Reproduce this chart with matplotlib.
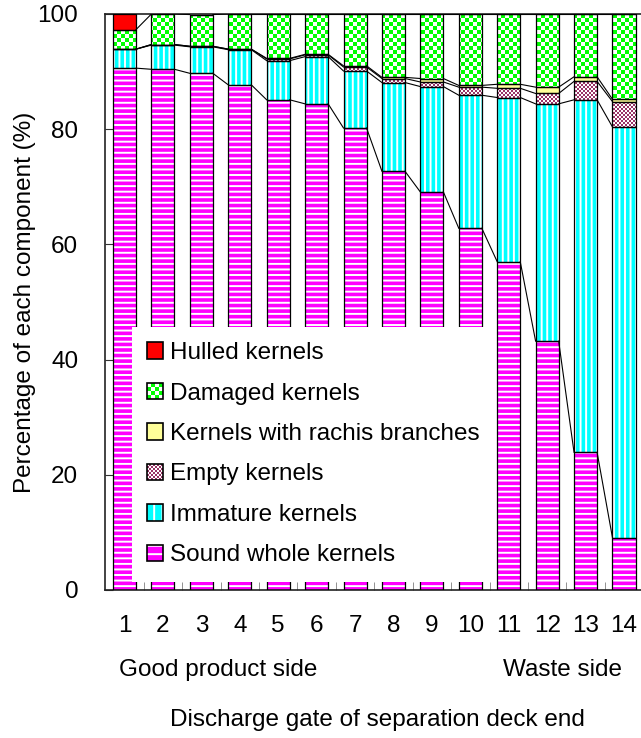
import numpy as np
import matplotlib.pyplot as plt
from matplotlib.patches import Rectangle, Patch
from matplotlib.path import Path

plt.rcParams['font.family'] = ['Liberation Sans', 'DejaVu Sans']
plt.rcParams['hatch.linewidth'] = 1.4

# data (% of each component per discharge gate)
gates = list(range(1, 15))
sound = [90.6, 90.4, 89.7, 87.7, 85.1, 84.4, 80.2, 72.7, 69.1, 62.8, 57.0, 43.2, 23.9, 9.1]
immature = [3.3, 4.2, 4.6, 6.1, 6.8, 8.2, 9.9, 15.4, 18.3, 23.1, 28.5, 41.2, 61.2, 71.3]
empty = [0.0, 0.1, 0.1, 0.1, 0.3, 0.3, 0.7, 0.7, 0.8, 1.4, 1.6, 1.8, 3.2, 4.4]
rachis = [0.0, 0.0, 0.0, 0.0, 0.1, 0.1, 0.2, 0.2, 0.6, 0.3, 0.7, 1.1, 0.8, 0.4]
damaged = [3.4, 5.3, 5.5, 6.1, 7.7, 7.0, 9.0, 11.0, 11.2, 12.4, 12.2, 12.7, 10.9, 14.8]
hulled = [2.7, 0, 0, 0, 0, 0, 0, 0, 0, 0, 0, 0, 0, 0]

labels = ['Sound whole kernels', 'Immature kernels', 'Empty kernels',
          'Kernels with rachis branches', 'Damaged kernels', 'Hulled kernels']

W, H = 641, 738
fig = plt.figure(figsize=(W / 100, H / 100), dpi=100)
ax_l, ax_r, ax_b, ax_t = 104.7, 640.5, 590, 14
ax = fig.add_axes([ax_l / W, 1 - ax_b / H, (ax_r - ax_l) / W, (ax_b - ax_t) / H])
xlo, xhi = 0.484, 14.43
ax.set_xlim(xlo, xhi)
ax.set_ylim(0, 100)

x = np.array(gates, dtype=float)
bw = 0.6


def checker_fill(vals, bottom, c1, c2, cell):
    # bars carrying a checker texture: image clipped to the bar outlines
    paths = []
    for xi, b, v in zip(x, bottom, vals):
        if v <= 0:
            continue
        x0, x1, y0, y1 = xi - bw / 2, xi + bw / 2, b, b + v
        paths.append(Path([(x0, y0), (x1, y0), (x1, y1), (x0, y1), (x0, y0)],
                          [Path.MOVETO, Path.LINETO, Path.LINETO, Path.LINETO, Path.CLOSEPOLY]))
    nx = int((ax_r - ax_l) / cell) + 1
    ny = int((ax_b - ax_t) / cell) + 1
    ii, jj = np.meshgrid(np.arange(nx), np.arange(ny))
    mask = ((ii + jj) % 2 == 0)
    a = np.array(plt.matplotlib.colors.to_rgb(c1))
    b = np.array(plt.matplotlib.colors.to_rgb(c2))
    img = np.where(mask[..., None], a, b)
    im = ax.imshow(img, extent=(xlo, xlo + nx * cell * (xhi - xlo) / (ax_r - ax_l),
                                0, ny * cell * 100 / (ax_b - ax_t)),
                   origin='lower', interpolation='nearest', aspect='auto', zorder=2)
    im.set_clip_path(Path.make_compound_path(*paths), transform=ax.transData)


bottom = np.zeros(len(gates))
levels = []
series = [sound, immature, empty, rachis, damaged, hulled]
for k, vals in enumerate(series):
    vals = np.array(vals)
    if k == 0:
        ax.bar(x, vals, bw, bottom=bottom, color='#ff00ff', edgecolor='white',
               hatch='---', linewidth=0, zorder=2)
    elif k == 1:
        ax.bar(x, vals, bw, bottom=bottom, color='#00ffff', edgecolor='white',
               hatch='|||', linewidth=0, zorder=2)
    elif k == 2:
        checker_fill(vals, bottom, '#993366', 'white', 2)
    elif k == 3:
        ax.bar(x, vals, bw, bottom=bottom, color='#ffff99', linewidth=0, zorder=2)
    elif k == 4:
        checker_fill(vals, bottom, '#00ff00', 'white', 4)
    else:
        ax.bar(x, vals, bw, bottom=bottom, color='#ff0000', linewidth=0, zorder=2)
    ax.bar(x, vals, bw, bottom=bottom, fill=False, edgecolor='black',
           linewidth=0.9, zorder=3)
    bottom = bottom + vals
    levels.append(bottom.copy())

# series lines joining the segment tops
for lev in levels[:-1]:
    for i in range(len(x) - 1):
        ax.plot([x[i] + bw / 2, x[i + 1] - bw / 2], [lev[i], lev[i + 1]],
                color='black', lw=0.8, zorder=3)

ax.set_xticks(gates)
ax.set_xticks(np.arange(1.5, 14, 1), minor=True)
ax.set_yticks(range(0, 101, 20))
ax.tick_params(axis='x', which='major', length=0, pad=18, labelsize=17.5)
ax.tick_params(axis='x', which='minor', direction='in', length=6, color='#808080')
ax.tick_params(axis='y', direction='in', length=6, pad=19, labelsize=17.5, color='#333333')
ax.spines['right'].set_visible(False)
for s in ['left', 'bottom', 'top']:
    ax.spines[s].set_linewidth(1.2)
    ax.spines[s].set_color('#222222')


class BoxHandler:
    def __init__(self, kind, c1, c2=None, hatch=None):
        self.kind, self.c1, self.c2, self.hatch = kind, c1, c2, hatch

    def legend_artist(self, legend, orig_handle, fontsize, handlebox):
        x0, y0 = -handlebox.xdescent, -handlebox.ydescent
        w, h = handlebox.width, handlebox.height
        tr = handlebox.get_transform()
        if self.kind == 'checker':
            n = 4 if self.c1 == '#00ff00' else 8
            for i in range(n):
                for j in range(n):
                    c = self.c1 if (i + j) % 2 == 0 else self.c2
                    handlebox.add_artist(Rectangle((x0 + i * w / n, y0 + j * h / n), w / n, h / n,
                                                   facecolor=c, linewidth=0, transform=tr))
        elif self.kind == 'hatch':
            handlebox.add_artist(Rectangle((x0, y0), w, h, facecolor=self.c1, edgecolor='white',
                                           hatch=self.hatch, linewidth=0, transform=tr))
        else:
            handlebox.add_artist(Rectangle((x0, y0), w, h, facecolor=self.c1,
                                           linewidth=0, transform=tr))
        outline = Rectangle((x0, y0), w, h, fill=False, edgecolor='black', linewidth=1.2,
                            transform=tr)
        handlebox.add_artist(outline)
        return outline


handlers = [BoxHandler('solid', '#ff0000'),
            BoxHandler('checker', '#00ff00', 'white'),
            BoxHandler('solid', '#ffff99'),
            BoxHandler('checker', '#993366', 'white'),
            BoxHandler('hatch', '#00ffff', hatch='||'),
            BoxHandler('hatch', '#ff00ff', hatch='--')]
handles = [Patch(label=l) for l in labels[::-1]]
leg = ax.legend(handles=handles, handler_map=dict(zip(handles, handlers)),
                loc='upper left', bbox_to_anchor=(132 / W, 1 - 327 / H),
                bbox_transform=fig.transFigure, borderaxespad=0, borderpad=0.62,
                fontsize=17.5, handlelength=0.66, handleheight=0.66,
                handletextpad=0.3, labelspacing=0.76, frameon=True, fancybox=False,
                facecolor='white', edgecolor='none', framealpha=1)
leg.set_zorder(5)

fs = 17.5
fig.text(25 / W, 1 - 302 / H, 'Percentage of each component (%)', rotation=90,
         ha='center', va='center', fontsize=fs)
fig.text(119 / W, 1 - 670 / H, 'Good product side', ha='left', va='center', fontsize=fs)
fig.text(622 / W, 1 - 670 / H, 'Waste side', ha='right', va='center', fontsize=fs)
fig.text(377 / W, 1 - 720 / H, 'Discharge gate of separation deck end',
         ha='center', va='center', fontsize=fs)

fig.savefig('out.png', dpi=100)
